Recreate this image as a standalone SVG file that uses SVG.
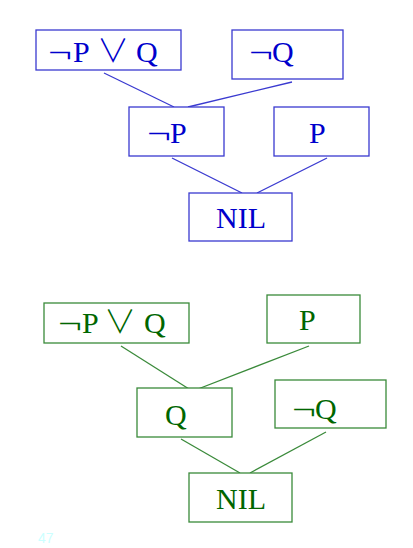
<svg xmlns="http://www.w3.org/2000/svg" width="413" height="548" viewBox="0 0 413 548">
<style>
.bb{fill:#fff;stroke:#3a3ad0;stroke-width:1.3}
.gb{fill:#fff;stroke:#3a8a3a;stroke-width:1.3}
.bl{stroke:#3a3ad0;stroke-width:1.3;fill:none}
.gl{stroke:#3a8a3a;stroke-width:1.3;fill:none}
.bt{font-family:"Liberation Serif","DejaVu Serif",serif;font-size:30px;fill:#0000cc}
.gt{font-family:"Liberation Serif","DejaVu Serif",serif;font-size:30px;fill:#006600}
.or{font-family:"Noto Sans CJK JP",sans-serif;font-weight:300;font-size:32px}
</style>
<rect width="413" height="548" fill="#fff"/>
<g id="connectors">
<line class="bl" x1="104" y1="73" x2="174" y2="107"/>
<line class="bl" x1="292" y1="82" x2="188" y2="107"/>
<line class="bl" x1="172" y1="158" x2="242" y2="193"/>
<line class="bl" x1="327" y1="158" x2="257" y2="193"/>
<line class="gl" x1="121" y1="346" x2="189" y2="389"/>
<line class="gl" x1="309" y1="346" x2="198" y2="389"/>
<line class="gl" x1="181" y1="439" x2="240" y2="473"/>
<line class="gl" x1="326" y1="432" x2="250" y2="473"/>
</g>
<g id="b-npq"><rect class="bb" x="36" y="30" width="145" height="40"/><text class="bt" y="62"><tspan x="48" textLength="24" lengthAdjust="spacingAndGlyphs">¬</tspan><tspan x="73">P</tspan><tspan class="or" x="97">∨</tspan><tspan x="136">Q</tspan></text></g>
<g id="b-nq"><rect class="bb" x="232" y="30" width="111" height="49"/><text class="bt" y="62"><tspan x="249" textLength="24" lengthAdjust="spacingAndGlyphs">¬</tspan><tspan x="272">Q</tspan></text></g>
<g id="b-np"><rect class="bb" x="129" y="107" width="95" height="49"/><text class="bt" y="143"><tspan x="147" textLength="24" lengthAdjust="spacingAndGlyphs">¬</tspan><tspan x="170">P</tspan></text></g>
<g id="b-p"><rect class="bb" x="274" y="107" width="95" height="49"/><text class="bt" x="309" y="143">P</text></g>
<g id="b-nil"><rect class="bb" x="189" y="193" width="103" height="48"/><text class="bt" x="216" y="228">NIL</text></g>
<g id="g-npq"><rect class="gb" x="44" y="303" width="145" height="40"/><text class="gt" y="333"><tspan x="58" textLength="24" lengthAdjust="spacingAndGlyphs">¬</tspan><tspan x="82">P</tspan><tspan class="or" x="104">∨</tspan><tspan x="144">Q</tspan></text></g>
<g id="g-p"><rect class="gb" x="267" y="295" width="93" height="48"/><text class="gt" x="299" y="330">P</text></g>
<g id="g-q"><rect class="gb" x="137" y="388" width="95" height="49"/><text class="gt" x="165" y="425">Q</text></g>
<g id="g-nq"><rect class="gb" x="275" y="380" width="111" height="48"/><text class="gt" y="419"><tspan x="292" textLength="24" lengthAdjust="spacingAndGlyphs">¬</tspan><tspan x="315">Q</tspan></text></g>
<g id="g-nil"><rect class="gb" x="189" y="473" width="103" height="49"/><text class="gt" x="216" y="509">NIL</text></g>
<text x="38" y="543" font-family="Liberation Sans,Arial,sans-serif" font-size="14" fill="#ccffff">47</text>
</svg>
